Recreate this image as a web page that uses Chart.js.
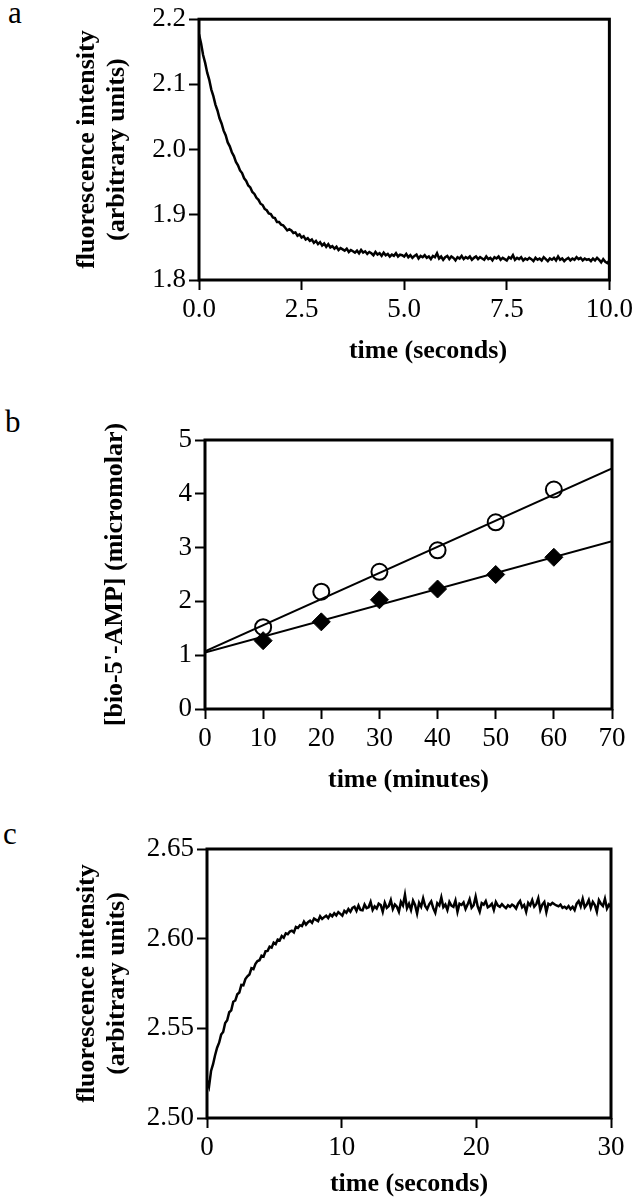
<!DOCTYPE html>
<html>
<head>
<meta charset="utf-8">
<script src="https://cdn.jsdelivr.net/npm/chart.js@4"></script>
<style>
  body { margin: 0; background: #fff; }
  .panel { position: absolute; left: 0; width: 637px; }
  .letter { position: absolute; font: 31px 'Liberation Serif', serif; line-height: 1; color: #000; }
  .xtitle { position: absolute; font: bold 26px 'Liberation Serif', serif; line-height: 30px; color: #000;
            width: 300px; text-align: center; }
</style>
</head>
<body>
<div class="letter" style="left:8px; top:-3px;">a</div>
<div class="letter" style="left:5px; top:406px;">b</div>
<div class="letter" style="left:3px; top:818px;">c</div>
<div class="panel" style="top:0; height:370px;"><canvas id="chartA"></canvas></div>
<div class="xtitle" style="left:278px; top:335px;">time (seconds)</div>
<div class="panel" style="top:380px; height:420px;"><canvas id="chartB"></canvas></div>
<div class="panel" style="top:800px; height:399px;"><canvas id="chartC"></canvas></div>
<script>
// panel a: fluorescence decay, sampled every 0.05 s
const stepA = 0.05;
const traceA = [
  2.177, 2.163, 2.145, 2.133, 2.118, 2.107, 2.092, 2.082, 2.069, 2.060,
  2.048, 2.040, 2.029, 2.022, 2.011, 2.005, 1.996, 1.990, 1.981, 1.976,
  1.968, 1.964, 1.956, 1.952, 1.945, 1.942, 1.935, 1.932, 1.926, 1.923,
  1.917, 1.915, 1.909, 1.907, 1.902, 1.901, 1.896, 1.895, 1.889, 1.889,
  1.885, 1.884, 1.880, 1.876, 1.878, 1.876, 1.872, 1.873, 1.868, 1.870,
  1.865, 1.867, 1.862, 1.864, 1.860, 1.862, 1.857, 1.860, 1.855, 1.858,
  1.853, 1.856, 1.851, 1.855, 1.850, 1.852, 1.848, 1.851, 1.846, 1.849,
  1.847, 1.845, 1.848, 1.843, 1.846, 1.844, 1.842, 1.845, 1.841, 1.846,
  1.842, 1.844, 1.840, 1.843, 1.841, 1.838, 1.843, 1.839, 1.841, 1.837,
  1.842, 1.838, 1.840, 1.836, 1.839, 1.837, 1.841, 1.836, 1.839, 1.838,
  1.836, 1.840, 1.835, 1.838, 1.834, 1.837, 1.839, 1.833, 1.837, 1.835,
  1.838, 1.834, 1.836, 1.832, 1.837, 1.835, 1.841, 1.833, 1.836, 1.831,
  1.835, 1.837, 1.832, 1.836, 1.834, 1.830, 1.835, 1.833, 1.837, 1.832,
  1.835, 1.833, 1.836, 1.831, 1.834, 1.836, 1.832, 1.835, 1.833, 1.831,
  1.836, 1.832, 1.834, 1.830, 1.835, 1.833, 1.836, 1.831, 1.834, 1.832,
  1.830, 1.835, 1.833, 1.838, 1.831, 1.834, 1.832, 1.835, 1.830, 1.833,
  1.831, 1.834, 1.832, 1.829, 1.834, 1.831, 1.833, 1.830, 1.835, 1.832,
  1.829, 1.833, 1.831, 1.834, 1.830, 1.836, 1.831, 1.833, 1.829, 1.832,
  1.834, 1.830, 1.833, 1.831, 1.835, 1.832, 1.834, 1.830, 1.833, 1.831,
  1.832, 1.829, 1.833, 1.830, 1.834, 1.831, 1.827, 1.832, 1.828, 1.826,
  1.830
];

// panel b: bio-5'-AMP vs time
const timesB = [10, 20, 30, 40, 50, 60];
const circlesB = [1.52, 2.18, 2.55, 2.95, 3.47, 4.08];
const diamondsB = [1.27, 1.62, 2.03, 2.23, 2.50, 2.82];
const fitCircles = [[0, 1.07], [70, 4.47]];
const fitDiamonds = [[0, 1.05], [70, 3.12]];

// panel c: fluorescence rise, sampled every 0.15 s
const stepC = 0.15;
const traceC = [
  2.5210, 2.5175, 2.5262, 2.5300, 2.5350, 2.5392, 2.5420, 2.5465, 2.5480, 2.5530,
  2.5545, 2.5590, 2.5600, 2.5648, 2.5655, 2.5690, 2.5700, 2.5742, 2.5740, 2.5775,
  2.5790, 2.5800, 2.5835, 2.5830, 2.5860, 2.5875, 2.5880, 2.5905, 2.5900, 2.5930,
  2.5932, 2.5955, 2.5950, 2.5978, 2.5970, 2.5995, 2.5990, 2.6015, 2.6005, 2.6030,
  2.6025, 2.6040, 2.6045, 2.6035, 2.6065, 2.6060, 2.6075, 2.6070, 2.6095, 2.6078,
  2.6092, 2.6100, 2.6088, 2.6112, 2.6105, 2.6098, 2.6125, 2.6110, 2.6120, 2.6128,
  2.6115, 2.6135, 2.6125, 2.6142, 2.6130, 2.6148, 2.6138, 2.6128, 2.6155, 2.6145,
  2.6165, 2.6150, 2.6172, 2.6178, 2.6155, 2.6185, 2.6160, 2.6158, 2.6190, 2.6170,
  2.6175, 2.6205, 2.6160, 2.6180, 2.6168, 2.6195, 2.6188, 2.6150, 2.6200, 2.6172,
  2.6182, 2.6215, 2.6165, 2.6190, 2.6178, 2.6150, 2.6205, 2.6185, 2.6245, 2.6170,
  2.6195, 2.6160, 2.6212, 2.6188, 2.6140, 2.6200, 2.6178, 2.6225, 2.6182, 2.6165,
  2.6192, 2.6208, 2.6170, 2.6145, 2.6198, 2.6185, 2.6230, 2.6176, 2.6190, 2.6160,
  2.6205, 2.6185, 2.6178, 2.6212, 2.6150, 2.6195, 2.6188, 2.6202, 2.6165, 2.6190,
  2.6220, 2.6172, 2.6186, 2.6235, 2.6180, 2.6150, 2.6198, 2.6190, 2.6210, 2.6175,
  2.6182, 2.6195, 2.6160, 2.6205, 2.6185, 2.6178, 2.6192, 2.6180, 2.6170, 2.6186,
  2.6178, 2.6190, 2.6182, 2.6168, 2.6195, 2.6210, 2.6175, 2.6188, 2.6150, 2.6200,
  2.6185, 2.6215, 2.6178, 2.6192, 2.6225, 2.6160, 2.6190, 2.6205, 2.6148, 2.6195,
  2.6188, 2.6200, 2.6192, 2.6185, 2.6180, 2.6190, 2.6172, 2.6178, 2.6168, 2.6182,
  2.6165, 2.6178, 2.6160, 2.6195, 2.6210, 2.6180, 2.6222, 2.6175, 2.6190, 2.6215,
  2.6172, 2.6205, 2.6188, 2.6150, 2.6215, 2.6195, 2.6182, 2.6222, 2.6168, 2.6190,
  2.6175
];

Chart.defaults.font.family = "'Liberation Serif', 'Times New Roman', serif";
Chart.defaults.color = '#000';
Chart.defaults.animation = false;

const tickFont = { size: 27 };
const titleFont = { size: 26, weight: 'bold', lineHeight: 1.15 };

// box round the plot area
const framePlugin = {
  id: 'frame',
  afterDraw(chart) {
    const { ctx, chartArea: a } = chart;
    ctx.save();
    ctx.strokeStyle = '#000';
    ctx.lineWidth = 3;
    ctx.strokeRect(a.left, a.top, a.right - a.left, a.bottom - a.top);
    ctx.restore();
  }
};

function xAxis(min, max, step, digits, title, height, titlePad) {
  return {
    type: 'linear', min, max,
    afterFit(s) { s.height = height; },
    border: { display: false },
    grid: { drawOnChartArea: false, drawTicks: true, tickLength: 10, tickWidth: 2, tickColor: '#000' },
    ticks: { stepSize: step, font: tickFont, padding: 4, maxRotation: 0, autoSkip: false,
             callback: v => v.toFixed(digits) },
    title: { display: !!title, text: title, font: titleFont, padding: { top: 0, bottom: titlePad } }
  };
}

function yAxis(min, max, step, digits, title, width, titlePad) {
  return {
    type: 'linear', min, max,
    afterFit(s) { s.width = width; },
    border: { display: false },
    grid: { drawOnChartArea: false, drawTicks: true, tickLength: 10, tickWidth: 2, tickColor: '#000' },
    ticks: { stepSize: step, font: tickFont, padding: 3, autoSkip: false,
             callback: v => v.toFixed(digits) },
    title: { display: true, text: title, font: titleFont, padding: { top: titlePad, bottom: 0 } }
  };
}

function baseOptions(padding, scales) {
  return {
    responsive: true,
    maintainAspectRatio: false,
    layout: { padding, autoPadding: false },
    plugins: { legend: { display: false }, tooltip: { enabled: false } },
    scales
  };
}

const traceStyle = { borderColor: '#000', borderWidth: 2.5, pointRadius: 0, tension: 0, fill: false };

new Chart(document.getElementById('chartA'), {
  type: 'line',
  data: { datasets: [{ ...traceStyle, data: traceA.map((v, i) => ({ x: i * stepA, y: v })) }] },
  options: baseOptions({ top: 11, right: 24, bottom: 0, left: 0 }, {
    x: xAxis(0, 10, 2.5, 1, '', 90, 5),
    y: yAxis(1.8, 2.2, 0.1, 1, ['fluorescence intensity', '(arbitrary units)'], 199, 72)
  }),
  plugins: [framePlugin]
});

const fitStyle = { type: 'line', borderColor: '#000', borderWidth: 2, pointRadius: 0, tension: 0, fill: false };

new Chart(document.getElementById('chartB'), {
  type: 'scatter',
  data: {
    datasets: [
      { ...fitStyle, data: fitCircles.map(p => ({ x: p[0], y: p[1] })) },
      { ...fitStyle, data: fitDiamonds.map(p => ({ x: p[0], y: p[1] })) },
      { data: timesB.map((t, i) => ({ x: t, y: circlesB[i] })),
        pointStyle: 'circle', pointRadius: 8, borderColor: '#000', borderWidth: 2,
        backgroundColor: 'rgba(0,0,0,0)' },
      { data: timesB.map((t, i) => ({ x: t, y: diamondsB[i] })),
        pointStyle: 'rectRot', pointRadius: 9, borderColor: '#000', borderWidth: 1,
        backgroundColor: '#000' }
    ]
  },
  options: baseOptions({ top: 60, right: 25, bottom: 0, left: 0 }, {
    x: xAxis(0, 70, 10, 0, 'time (minutes)', 91, 5),
    y: yAxis(0, 5, 1, 0, "[bio-5'-AMP] (micromolar)", 205, 100)
  }),
  plugins: [framePlugin]
});

new Chart(document.getElementById('chartC'), {
  type: 'line',
  data: { datasets: [{ ...traceStyle, data: traceC.map((v, i) => ({ x: i * stepC, y: v })) }] },
  options: baseOptions({ top: 49, right: 26, bottom: 0, left: 0 }, {
    x: xAxis(0, 30, 10, 0, 'time (seconds)', 81, 0),
    y: yAxis(2.5, 2.65, 0.05, 2, ['fluorescence intensity', '(arbitrary units)'], 207, 72)
  }),
  plugins: [framePlugin]
});
</script>
</body>
</html>
